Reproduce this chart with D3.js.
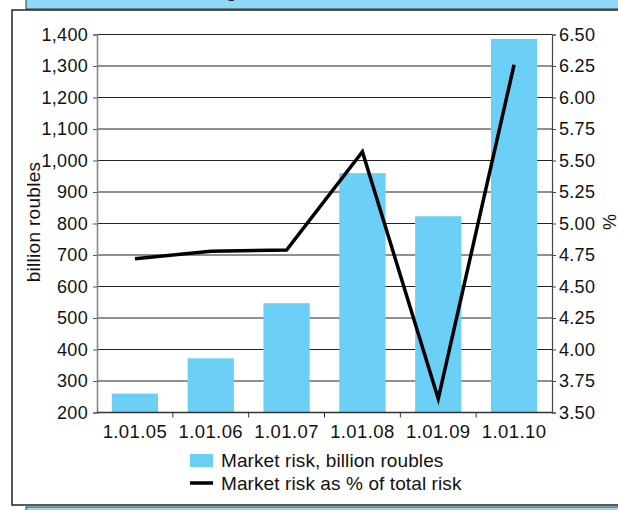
<!DOCTYPE html>
<html>
<head>
<meta charset="utf-8">
<script src="https://cdn.jsdelivr.net/npm/d3@7"></script>
<style>
  body { margin: 0; background: #fff; }
  svg { display: block; font-family: "Liberation Sans", Arial, sans-serif; }
  .tick text { font-size: 18px; fill: #111; letter-spacing: 0.3px; }
</style>
</head>
<body>
<div id="chart"></div>
<script>
// chart data
const categories = ['1.01.05', '1.01.06', '1.01.07', '1.01.08', '1.01.09', '1.01.10'];
const marketRisk = [260, 372, 547, 960, 823, 1386];
const riskShare = [4.72, 4.78, 4.79, 5.57, 3.61, 6.26];
const leftTicks = [200, 300, 400, 500, 600, 700, 800, 900, 1000, 1100, 1200, 1300, 1400];
const rightTicks = [3.5, 3.75, 4, 4.25, 4.5, 4.75, 5, 5.25, 5.5, 5.75, 6, 6.25, 6.5];
const legendLabels = ['Market risk, billion roubles', 'Market risk as % of total risk'];

const W = 618, H = 510;
const barColor = '#6ccff6';
const bandColor = '#8fd9f7';
const margin = { top: 34.5, right: 66, bottom: 97.5, left: 97 };
const width = W - margin.left - margin.right;
const height = H - margin.top - margin.bottom;

const svg = d3.select('#chart').append('svg')
  .attr('width', W)
  .attr('height', H);

// frame pieces around the figure
svg.append('rect').attr('x', 26).attr('y', -2).attr('width', W).attr('height', 11)
  .attr('fill', bandColor).attr('stroke', '#333').attr('stroke-width', 1);
svg.append('text').attr('x', 228).attr('y', -4)
  .attr('font-family', 'Liberation Serif, serif').attr('font-style', 'italic')
  .attr('font-size', 20).attr('fill', '#222').text('g');
svg.append('rect').attr('x', 26).attr('y', 507).attr('width', W).attr('height', 10)
  .attr('fill', bandColor).attr('stroke', '#333').attr('stroke-width', 1);
svg.append('rect').attr('x', 12).attr('y', 10).attr('width', W).attr('height', 495)
  .attr('fill', '#fff').attr('stroke', '#222').attr('stroke-width', 1.5);

const g = svg.append('g')
  .attr('transform', 'translate(' + margin.left + ',' + margin.top + ')');

const x = d3.scaleBand().domain(categories).range([0, width]).padding(0);
const y = d3.scaleLinear().domain([200, 1400]).range([height, 0]);
const y2 = d3.scaleLinear().domain([3.5, 6.5]).range([height, 0]);

// gridlines
g.append('g')
  .selectAll('line')
  .data(leftTicks)
  .enter()
  .append('line')
  .attr('x1', 0)
  .attr('x2', width)
  .attr('y1', d => y(d))
  .attr('y2', d => y(d))
  .attr('stroke', '#222')
  .attr('stroke-width', 1.1);

// bars
const barW = x.bandwidth() * 0.61;
g.selectAll('.bar')
  .data(categories)
  .enter()
  .append('rect')
  .attr('class', 'bar')
  .attr('x', d => x(d) + (x.bandwidth() - barW) / 2)
  .attr('width', barW)
  .attr('y', (d, i) => y(marketRisk[i]))
  .attr('height', (d, i) => height - y(marketRisk[i]))
  .attr('fill', barColor);

// line
const line = d3.line()
  .x((d, i) => x(categories[i]) + x.bandwidth() / 2)
  .y(d => y2(d));
g.append('path')
  .datum(riskShare)
  .attr('d', line)
  .attr('fill', 'none')
  .attr('stroke', '#000')
  .attr('stroke-width', 3.5)
  .attr('stroke-linejoin', 'miter');

// left axis
const leftAxis = g.append('g')
  .call(d3.axisLeft(y).tickValues(leftTicks).tickSize(4).tickPadding(5).tickFormat(d3.format(',')));
leftAxis.select('.domain').attr('stroke', '#888').attr('stroke-width', 1.6);
leftAxis.selectAll('.tick line').attr('stroke', '#555');

// right axis
const rightAxis = g.append('g')
  .attr('transform', 'translate(' + width + ',0)')
  .call(d3.axisRight(y2).tickValues(rightTicks).tickSize(4).tickPadding(3).tickFormat(d3.format('.2f')));
rightAxis.select('.domain').attr('stroke', '#444').attr('stroke-width', 1.2);
rightAxis.selectAll('.tick line').attr('stroke', '#444');

// bottom axis, ticks between categories
const bottom = g.append('g')
  .attr('transform', 'translate(0,' + height + ')');
bottom.append('line').attr('x1', 0).attr('x2', width)
  .attr('stroke', '#333').attr('stroke-width', 1.4);
bottom.selectAll('.xtick')
  .data(categories.slice(1))
  .enter()
  .append('line')
  .attr('x1', d => x(d)).attr('x2', d => x(d))
  .attr('y1', 0).attr('y2', 5)
  .attr('stroke', '#333');
bottom.selectAll('.xlabel')
  .data(categories)
  .enter()
  .append('text')
  .attr('x', d => x(d) + x.bandwidth() / 2)
  .attr('y', 25)
  .attr('text-anchor', 'middle')
  .attr('font-size', 18.5)
  .attr('letter-spacing', 0.4)
  .attr('fill', '#111')
  .text(d => d);

// axis titles
svg.append('text')
  .attr('transform', 'translate(40,222) rotate(-90)')
  .attr('text-anchor', 'middle')
  .attr('font-size', 19)
  .attr('letter-spacing', 0.3)
  .attr('fill', '#111')
  .text('billion roubles');
svg.append('text')
  .attr('transform', 'translate(603,222) rotate(90)')
  .attr('text-anchor', 'middle')
  .attr('font-size', 18)
  .attr('fill', '#111')
  .text('%');

// legend
const legend = svg.append('g').attr('transform', 'translate(190,454)');
legend.append('rect').attr('x', 0).attr('y', 0).attr('width', 23).attr('height', 13).attr('fill', barColor);
legend.append('line').attr('x1', 0).attr('x2', 23).attr('y1', 29).attr('y2', 29)
  .attr('stroke', '#000').attr('stroke-width', 3.5);
legend.selectAll('text')
  .data(legendLabels)
  .enter()
  .append('text')
  .attr('x', 31)
  .attr('y', (d, i) => 13 + i * 23)
  .attr('font-size', 19)
  .attr('letter-spacing', 0.1)
  .attr('fill', '#111')
  .text(d => d);
</script>
</body>
</html>
